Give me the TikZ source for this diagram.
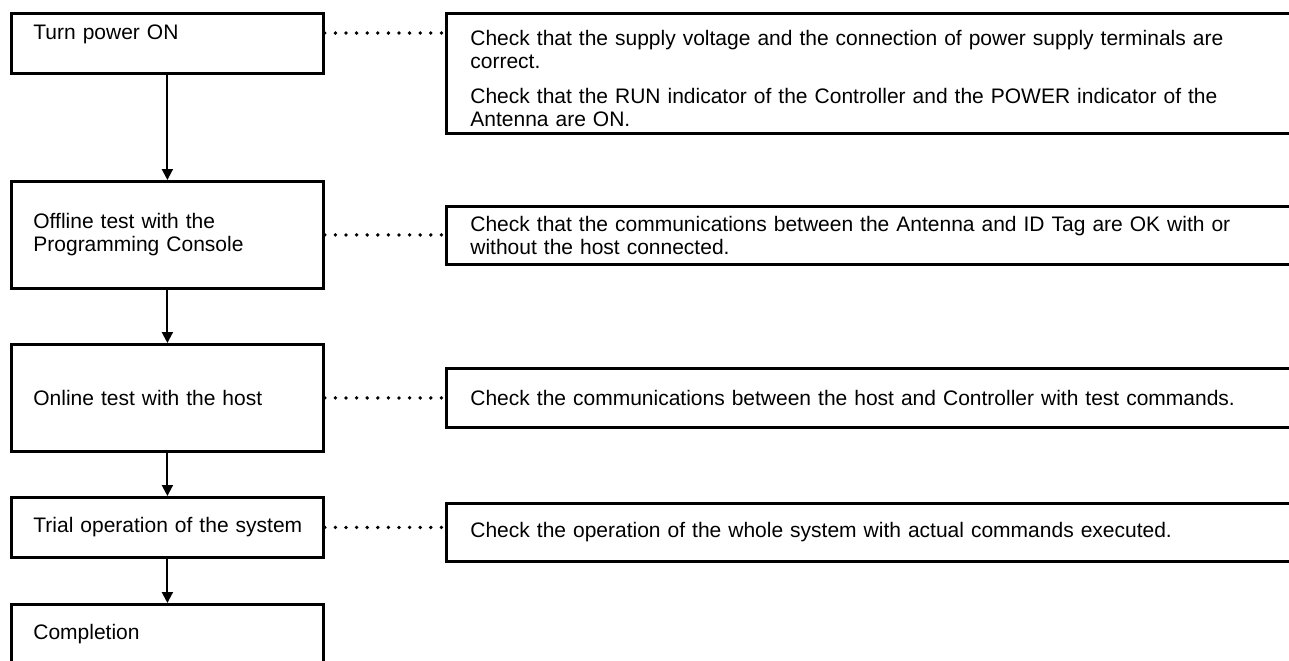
\documentclass[tikz,border=0pt]{standalone}
\usepackage{fontspec}
\setmainfont{Liberation Sans}
\usepackage{tikz}
\usetikzlibrary{arrows.meta, calc}
\definecolor{inkblack}{RGB}{0, 0, 0}
\definecolor{paper}{RGB}{255, 255, 255}

\begin{document}
\begin{tikzpicture}[
    x=0.5pt, y=-0.5pt,
    >={Triangle[length=5.5pt, width=5.5pt]},
    font=\fontsize{10.5pt}{11.5pt}\selectfont,
    stepbox/.style={draw=inkblack, fill=paper, line width=1.4pt, anchor=north west, align=left,
        inner xsep=11pt, inner ysep=0pt, text width=134pt},
    checkbox/.style={draw=inkblack, fill=paper, line width=1.4pt, anchor=north west, align=left,
        inner xsep=12pt, inner ysep=0pt, text width=404pt},
    flow/.style={->, line width=1pt},
    link/.style={line width=1.9pt, line cap=round, dash pattern=on 0pt off 5.3pt},
]
    \useasboundingbox (0,0) rectangle (1289,660);

    % --- LEFT: steps of the test run ---
    \node[stepbox, minimum height=30pt] (power) at (10,12) {Turn power ON\\ \mbox{}};
    \node[stepbox, minimum height=53.5pt] (offline) at (10,180) {Offline test with the\\Programming Console};
    \node[stepbox, minimum height=53.5pt] (online) at (10,343) {Online test with the host};
    \node[stepbox, minimum height=30pt] (trial) at (10,496) {\mbox{Trial operation of the system}};
    \node[stepbox, minimum height=30pt] (done) at (10,603) {Completion};

    \draw[flow] (power) -- (offline);
    \draw[flow] (offline) -- (online);
    \draw[flow] (online) -- (trial);
    \draw[flow] (trial) -- (done);

    % --- RIGHT: what to check at each step ---
    \node[checkbox, minimum height=60pt] (chkpower) at (445,12) {\rule{0pt}{12.6pt}Check that the supply voltage and the connection of power supply terminals are\\correct.\\[6pt]Check that the RUN indicator of the Controller and the POWER indicator of the\\Antenna are ON.};
    \node[checkbox, minimum height=29pt] (chkoffline) at (445,205) {Check that the communications between the Antenna and ID Tag are OK with or\\without the host connected.};
    \node[checkbox, minimum height=29.5pt] (chkonline) at (445,367) {Check the communications between the host and Controller with test commands.};
    \node[checkbox, minimum height=29pt] (chktrial) at (445,502) {Check the operation of the whole system with actual commands executed.};

    \coordinate (dpower) at ($(power.north east)+(0,21)$);
    \draw[link] (dpower) -- (dpower -| chkpower.west);
    \draw[link] (offline.east) -- (offline.east -| chkoffline.west);
    \draw[link] (online.east) -- (online.east -| chkonline.west);
    \draw[link] (trial.east) -- (trial.east -| chktrial.west);
\end{tikzpicture}
\end{document}
